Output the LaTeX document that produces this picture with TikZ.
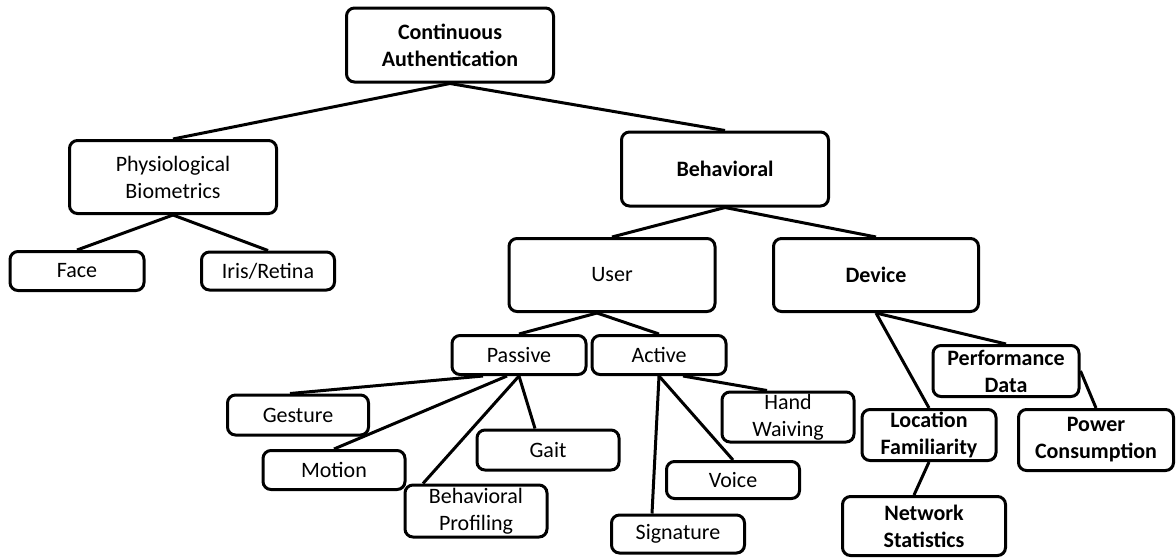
\documentclass[tikz,border=0pt]{standalone}
\usepackage{fontspec}
\setmainfont{Carlito}
\usetikzlibrary{positioning}

\begin{document}
\begin{tikzpicture}[x=0.5pt,y=-0.5pt,
        box/.style={rectangle,rounded corners=4pt,draw,line width=1.5pt,align=center,
          inner sep=0pt,font=\fontsize{11}{13.5}\selectfont},
        bbox/.style={box,font=\fontsize{11}{13.5}\selectfont\bfseries},
        boxsize/.style 2 args={minimum width=#1*0.5pt,minimum height=#2*0.5pt},
        line width=1.5pt]

        \useasboundingbox (0,0) rectangle (1176,558);

        \node[bbox,boxsize={207}{74}] (cont)      at (450,45)  {Continuous\\Authentication};
        \node[box,boxsize={207}{73}]  (physio)    at (173,177) {Physiological\\Biometrics};
        \node[box,boxsize={134}{39}]  (face)      at (77,271)  {Face};
        \node[box,boxsize={133}{38}]  (iris)      at (268,271) {Iris/Retina};
        \node[bbox,boxsize={207}{74}] (behav)     at (725,169) {Behavioral};
        \node[box,boxsize={206}{73}]  (user)      at (612,275) {User};
        \node[bbox,boxsize={205}{73}] (device)    at (876,275) {Device};
        \node[box,boxsize={134}{39}]  (passive)   at (519,355) {Passive};
        \node[box,boxsize={134}{39}]  (active)    at (659,355) {Active};
        \node[box,boxsize={141}{40}]  (gesture)   at (298,415) {Gesture};
        \node[box,boxsize={142}{39}]  (motion)    at (334,470) {Motion};
        \node[box,boxsize={142}{52}]  (profiling) at (476,511) {Behavioral\\Profiling};
        \node[box,boxsize={142}{40}]  (gait)      at (548,450) {Gait};
        \node[box,boxsize={133}{38}]  (signature) at (678,534) {Signature};
        \node[box,boxsize={133}{37}]  (voice)     at (733,480) {Voice};
        \node[box,boxsize={132}{50}]  (hand)      at (788,417) {Hand\\Waiving};
        \node[bbox,boxsize={146}{51}] (perf)      at (1006,371) {Performance\\Data};
        \node[bbox,boxsize={134}{51}] (location)  at (929,435) {Location\\Familiarity};
        \node[bbox,boxsize={155}{61}] (power)     at (1096,440) {Power\\Consumption};
        \node[bbox,boxsize={163}{59}] (network)   at (924,526) {Network\\Statistics};

        % Continuous Authentication
        \draw (cont.south) -- (physio.north);
        \draw (cont.south) -- (behav.north);

        % Physiological
        \draw (physio.south) -- (face.north);
        \draw (physio.south) -- (iris.north);

        % Behavioral
        \draw (behav.south) -- (user.north);
        \draw (behav.south) -- (device.north);

        % User
        \coordinate (userfork) at ([xshift=-7.5pt]user.south);
        \draw (userfork) -- (passive.north);
        \draw (userfork) -- (active.north);

        % Passive
        \draw ([xshift=-18pt]passive.south) -- ([xshift=-4pt]gesture.north);
        \draw ([xshift=-6pt]passive.south)  -- (motion.north);
        \draw (passive.south) -- ([xshift=-26.5pt]profiling.north);
        \draw (passive.south) -- ([xshift=-6.5pt]gait.north);

        % Active
        \draw (active.south) -- ([xshift=-13pt]signature.north);
        \draw (active.south) -- (voice.north);
        \draw ([xshift=12pt]active.south) -- ([xshift=-10.5pt]hand.north);

        % Device
        \draw (device.south) -- (location.north);
        \draw (device.south) -- (perf.north);
        \draw (location.south) -- ([xshift=-5pt]network.north);
        \draw (perf.east) -- (power.north);
      \end{tikzpicture}
\end{document}
